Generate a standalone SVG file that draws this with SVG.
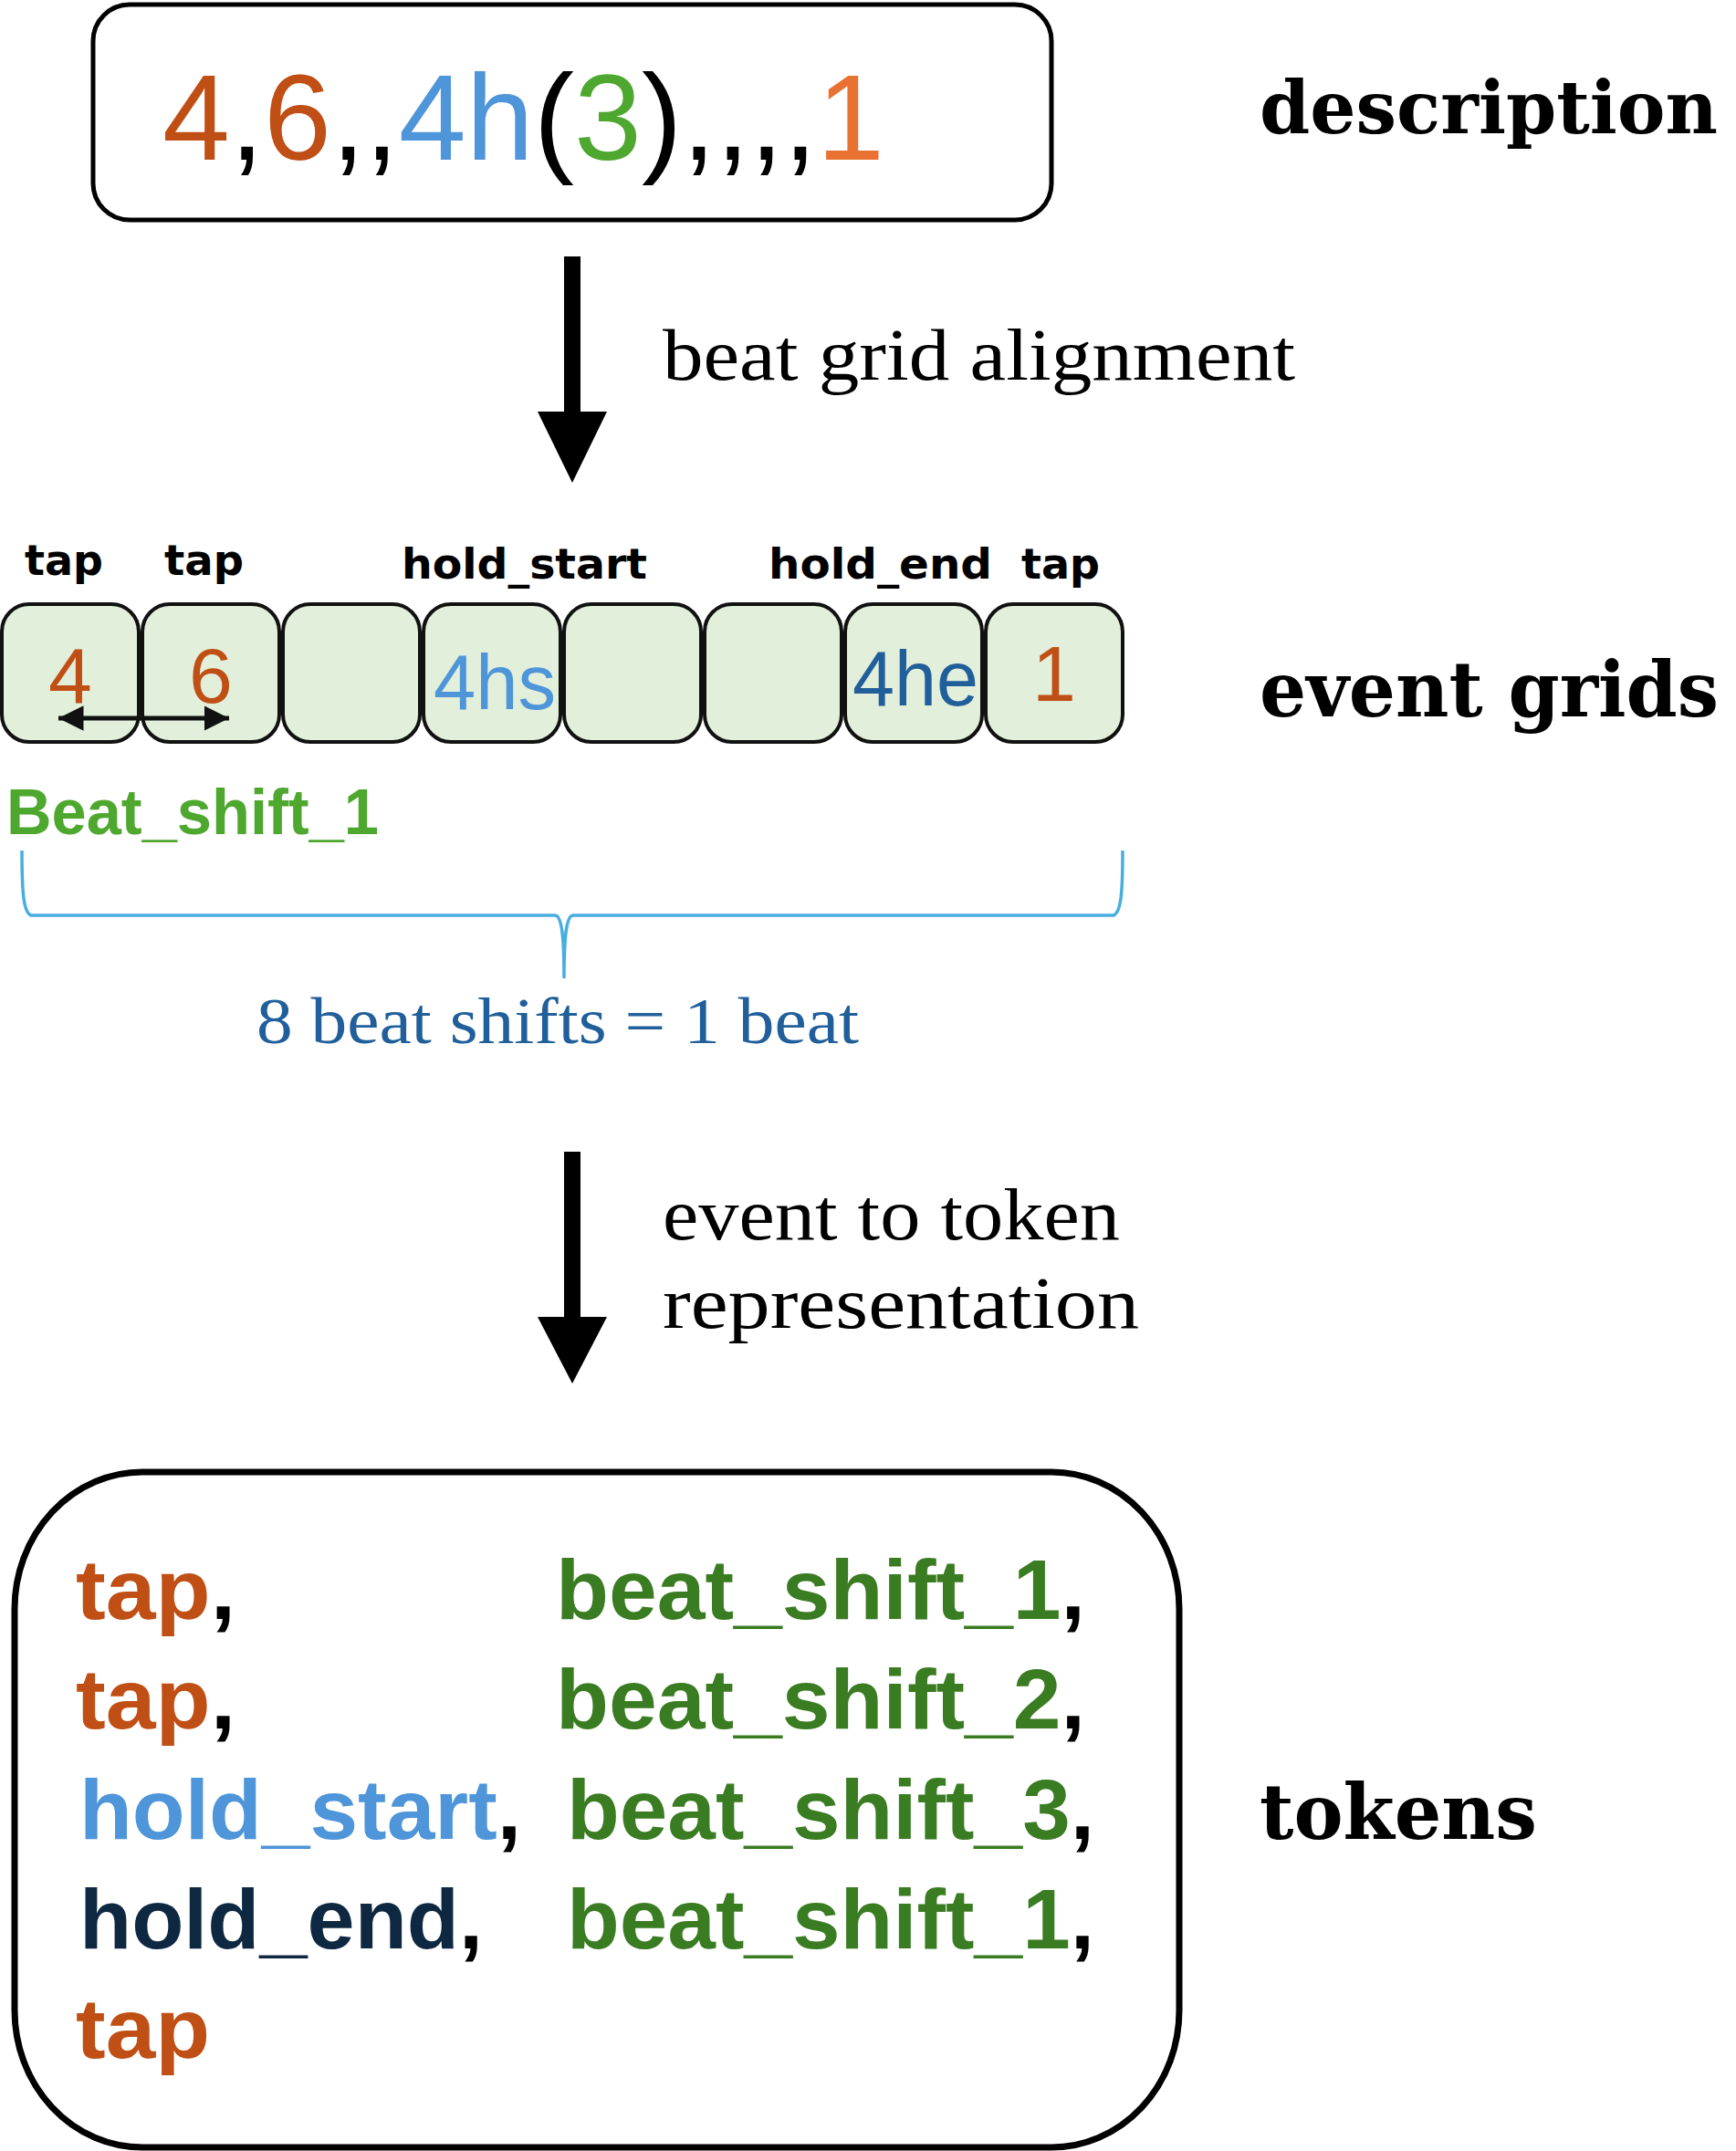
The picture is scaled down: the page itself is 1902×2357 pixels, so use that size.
<svg xmlns="http://www.w3.org/2000/svg" width="1902" height="2357" viewBox="0 0 1902 2357">
<style>
.box{fill:#fff;stroke:#000}
.cell{fill:#E2EFDA;stroke:#111;stroke-width:4}
.lbl{font-family:"DejaVu Sans","Noto Sans",sans-serif;font-weight:bold;font-size:46px;fill:#000}
.side{font-family:"DejaVu Serif","Liberation Serif",serif;font-weight:bold;font-size:84px;fill:#000}
.cap{font-family:"Liberation Serif","DejaVu Serif",serif;font-size:80px;fill:#000}
.num{font-family:"Liberation Sans",Arial,sans-serif;font-size:86px;text-anchor:middle}
.tok{font-family:"Liberation Sans",Arial,sans-serif;font-weight:bold;font-size:92px}
.or{fill:#C04F15}.bl{fill:#4E95D9}.gr{fill:#3A7C22}.nv{fill:#0E2841}.k{fill:#000}
</style>
<defs>
<marker id="ah" viewBox="0 0 10 10" refX="10" refY="5" markerWidth="5.5" markerHeight="5.5" orient="auto-start-reverse" markerUnits="strokeWidth">
<path d="M0,0 L10,5 L0,10 z" fill="#111"/>
</marker>
</defs>

<g id="description">
<rect class="box" x="102" y="5" width="1050" height="236" rx="40" stroke-width="5"/>
<text x="178" y="175" font-family="Liberation Sans,Arial,sans-serif" font-size="133"><tspan fill="#C04F15">4</tspan><tspan fill="#000">,</tspan><tspan fill="#C04F15">6</tspan><tspan fill="#000">,,</tspan><tspan fill="#4E95D9">4h</tspan><tspan fill="#000">(</tspan><tspan fill="#4EA72E">3</tspan><tspan fill="#000">),,,,</tspan><tspan fill="#E97132">1</tspan></text>
</g>
<text id="label-description" class="side" x="1380" y="146" font-size="80" textLength="502" lengthAdjust="spacingAndGlyphs" style="font-size:80px">description</text>

<g id="event-grids">
<g id="labels">
<text class="lbl" x="27" y="630" textLength="86" lengthAdjust="spacingAndGlyphs">tap</text>
<text class="lbl" x="180" y="630" textLength="87" lengthAdjust="spacingAndGlyphs">tap</text>
<text class="lbl" x="440" y="634" textLength="269" lengthAdjust="spacingAndGlyphs">hold_start</text>
<text class="lbl" x="842" y="634" textLength="245" lengthAdjust="spacingAndGlyphs">hold_end</text>
<text class="lbl" x="1119" y="634" textLength="86" lengthAdjust="spacingAndGlyphs">tap</text>
</g>
<g id="cell-0"><rect class="cell" x="2" y="662" width="150" height="151" rx="30"/><text class="num or" x="77" y="770">4</text></g>
<g id="cell-1"><rect class="cell" x="156" y="662" width="150" height="151" rx="30"/><text class="num or" x="231" y="770">6</text></g>
<g id="cell-2"><rect class="cell" x="310" y="662" width="150" height="151" rx="30"/></g>
<g id="cell-3"><rect class="cell" x="464" y="662" width="150" height="151" rx="30"/><text class="num bl" x="542" y="777" textLength="134" lengthAdjust="spacingAndGlyphs">4hs</text></g>
<g id="cell-4"><rect class="cell" x="618" y="662" width="150" height="151" rx="30"/></g>
<g id="cell-5"><rect class="cell" x="772" y="662" width="150" height="151" rx="30"/></g>
<g id="cell-6"><rect class="cell" x="926" y="662" width="150" height="151" rx="30"/><text class="num" fill="#215F9A" x="1003" y="773" textLength="138" lengthAdjust="spacingAndGlyphs">4he</text></g>
<g id="cell-7"><rect class="cell" x="1080" y="662" width="150" height="151" rx="30"/><text class="num or" x="1155" y="768">1</text></g>
<text id="beat-shift-1" x="7" y="914" font-family="Liberation Sans,Arial,sans-serif" font-weight="bold" font-size="70" fill="#4EA72E" textLength="408" lengthAdjust="spacingAndGlyphs">Beat_shift_1</text>
<path id="brace" d="M24,932 C24,980 26,1000 34,1003 L608,1003 C616,1003 618,1030 618,1072 C618,1030 620,1003 628,1003 L1220,1003 C1228,1000 1230,980 1230,932" fill="none" stroke="#47AEE0" stroke-width="3.5"/>
<text id="brace-label" x="281" y="1143" font-family="Liberation Serif,DejaVu Serif,serif" font-size="72" fill="#215F9A" textLength="660" lengthAdjust="spacingAndGlyphs">8 beat shifts = 1 beat</text>
</g>
<text id="label-event-grids" class="side" x="1380" y="785" textLength="503" lengthAdjust="spacingAndGlyphs">event grids</text>

<g id="connectors">
<path d="M618,281 H636 V451 H665 L627,529 L589,451 H618 Z" fill="#000"/>
<path d="M618,1262 H636 V1443 H665 L627,1516 L589,1443 H618 Z" fill="#000"/>
<line x1="64" y1="787" x2="251" y2="787" stroke="#111" stroke-width="5" marker-start="url(#ah)" marker-end="url(#ah)"/>
</g>
<text class="cap" x="726" y="416" textLength="693" lengthAdjust="spacingAndGlyphs">beat grid alignment</text>
<text class="cap" x="726" y="1358" textLength="501" lengthAdjust="spacingAndGlyphs">event to token</text>
<text class="cap" x="726" y="1455" textLength="522" lengthAdjust="spacingAndGlyphs">representation</text>

<g id="tokens">
<rect class="box" x="16" y="1613" width="1276" height="740" rx="140" ry="150" stroke-width="7"/>
<text class="tok" x="83" y="1774" textLength="175" lengthAdjust="spacingAndGlyphs"><tspan class="or">tap</tspan><tspan class="k">,</tspan></text>
<text class="tok" x="609" y="1774" textLength="580" lengthAdjust="spacingAndGlyphs"><tspan class="gr">beat_shift_1</tspan><tspan class="k">,</tspan></text>
<text class="tok" x="83" y="1894" textLength="175" lengthAdjust="spacingAndGlyphs"><tspan class="or">tap</tspan><tspan class="k">,</tspan></text>
<text class="tok" x="609" y="1894" textLength="580" lengthAdjust="spacingAndGlyphs"><tspan class="gr">beat_shift_2</tspan><tspan class="k">,</tspan></text>
<text class="tok" x="87" y="2015" textLength="484" lengthAdjust="spacingAndGlyphs"><tspan class="bl">hold_start</tspan><tspan class="k">,</tspan></text>
<text class="tok" x="621" y="2015" textLength="578" lengthAdjust="spacingAndGlyphs"><tspan class="gr">beat_shift_3</tspan><tspan class="k">,</tspan></text>
<text class="tok" x="87" y="2135" textLength="442" lengthAdjust="spacingAndGlyphs"><tspan class="nv">hold_end</tspan><tspan class="k">,</tspan></text>
<text class="tok" x="621" y="2135" textLength="578" lengthAdjust="spacingAndGlyphs"><tspan class="gr">beat_shift_1</tspan><tspan class="k">,</tspan></text>
<text class="tok or" x="83" y="2255" textLength="147" lengthAdjust="spacingAndGlyphs">tap</text>
</g>
<text id="label-tokens" class="side" x="1380" y="2015" textLength="304" lengthAdjust="spacingAndGlyphs">tokens</text>
</svg>
